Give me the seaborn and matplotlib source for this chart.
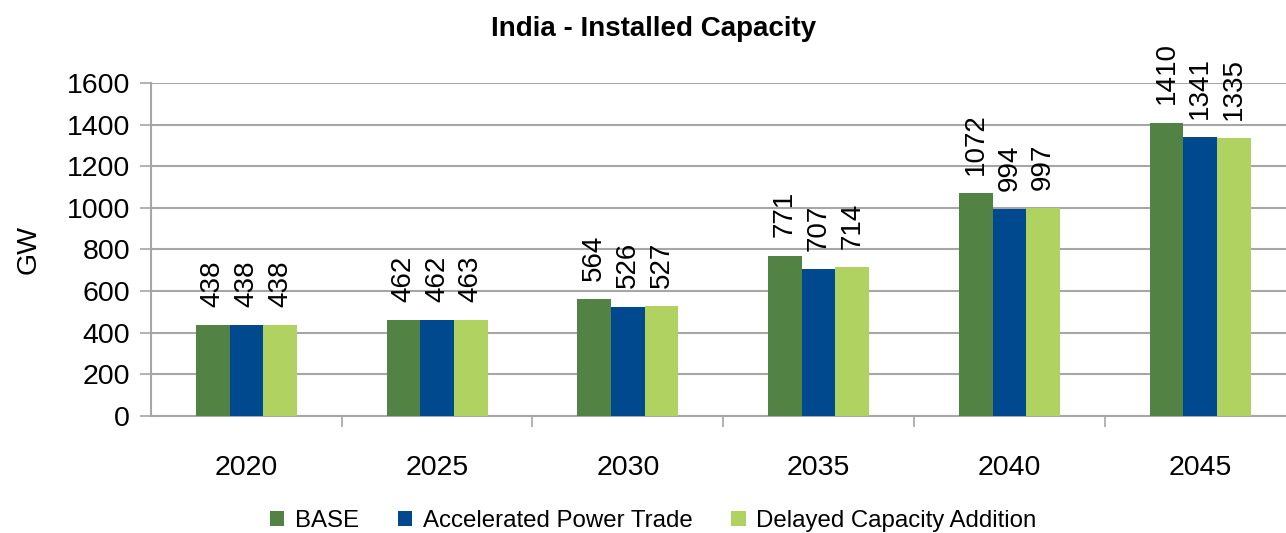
import pandas as pd
import matplotlib
matplotlib.use('Agg')
import matplotlib.pyplot as plt
from matplotlib.patches import Patch
import seaborn as sns

# Data
years = ['2020', '2025', '2030', '2035', '2040', '2045']
scenarios = ['BASE', 'Accelerated Power Trade', 'Delayed Capacity Addition']
base = [438, 462, 564, 771, 1072, 1410]
accelerated = [438, 462, 526, 707, 994, 1341]
delayed = [438, 463, 527, 714, 997, 1335]
y_ticks = [0, 200, 400, 600, 800, 1000, 1200, 1400, 1600]

colors = ['#538245', '#00498F', '#B0D260']

df = pd.DataFrame({
    'year': years * 3,
    'scenario': [s for s in scenarios for _ in years],
    'value': base + accelerated + delayed,
})

sns.set_style("white")
plt.rcParams['font.family'] = ['Liberation Sans', 'DejaVu Sans']
plt.rcParams['text.color'] = 'black'
plt.rcParams['xtick.labelcolor'] = 'black'
plt.rcParams['ytick.labelcolor'] = 'black'
plt.rcParams['axes.labelcolor'] = 'black'

fig = plt.figure(figsize=(12.86, 5.33), dpi=100)
ax = fig.add_axes([0.1174, 0.2195, 0.890, 0.6248])

sns.barplot(data=df, x='year', y='value', hue='scenario', hue_order=scenarios,
            palette=colors, width=0.53, gap=0, saturation=1, ax=ax,
            errorbar=None, legend=False, zorder=3, linewidth=0, edgecolor='none')

for c in ax.containers:
    ax.bar_label(c, labels=[f'{int(v)}' for v in c.datavalues], rotation=90,
                 padding=13, fontsize=20, color='black')

ax.set_xlim(-0.5, 5.5)
ax.set_ylim(0, 1600)
ax.set_yticks(y_ticks)
ax.yaxis.grid(True, color='#A6A6A6', linewidth=1.5, zorder=0)
ax.xaxis.grid(False)

ax.tick_params(axis='y', labelsize=20.5, length=8, width=1.2, color='#A6A6A6',
               direction='out', left=True, pad=7)
ax.tick_params(axis='x', labelsize=20.5, length=0, pad=28)
# category separators on x axis
ax.set_xticks([i + 0.5 for i in range(len(years))], minor=True)
ax.tick_params(axis='x', which='minor', length=8, width=1.2, color='#A6A6A6',
               direction='out', bottom=True)

for side in ['top', 'right']:
    ax.spines[side].set_visible(False)
for side in ['left', 'bottom']:
    ax.spines[side].set_color('#A6A6A6')
    ax.spines[side].set_linewidth(1.5)

ax.set_xlabel('')
ax.set_ylabel('GW', fontsize=20.5, labelpad=18)
fig.text(0.508, 0.945, 'India - Installed Capacity', ha='center', va='center',
         fontsize=20, fontweight='bold')

handles = [Patch(facecolor=c, edgecolor='none', label=s) for c, s in zip(colors, scenarios)]
fig.legend(handles=handles, loc='center', bbox_to_anchor=(0.508, 0.022), ncol=3,
           frameon=False, fontsize=17.3, handlelength=0.6, handleheight=0.6,
           handletextpad=0.45, columnspacing=1.6)

plt.savefig('out.png', dpi=100)
